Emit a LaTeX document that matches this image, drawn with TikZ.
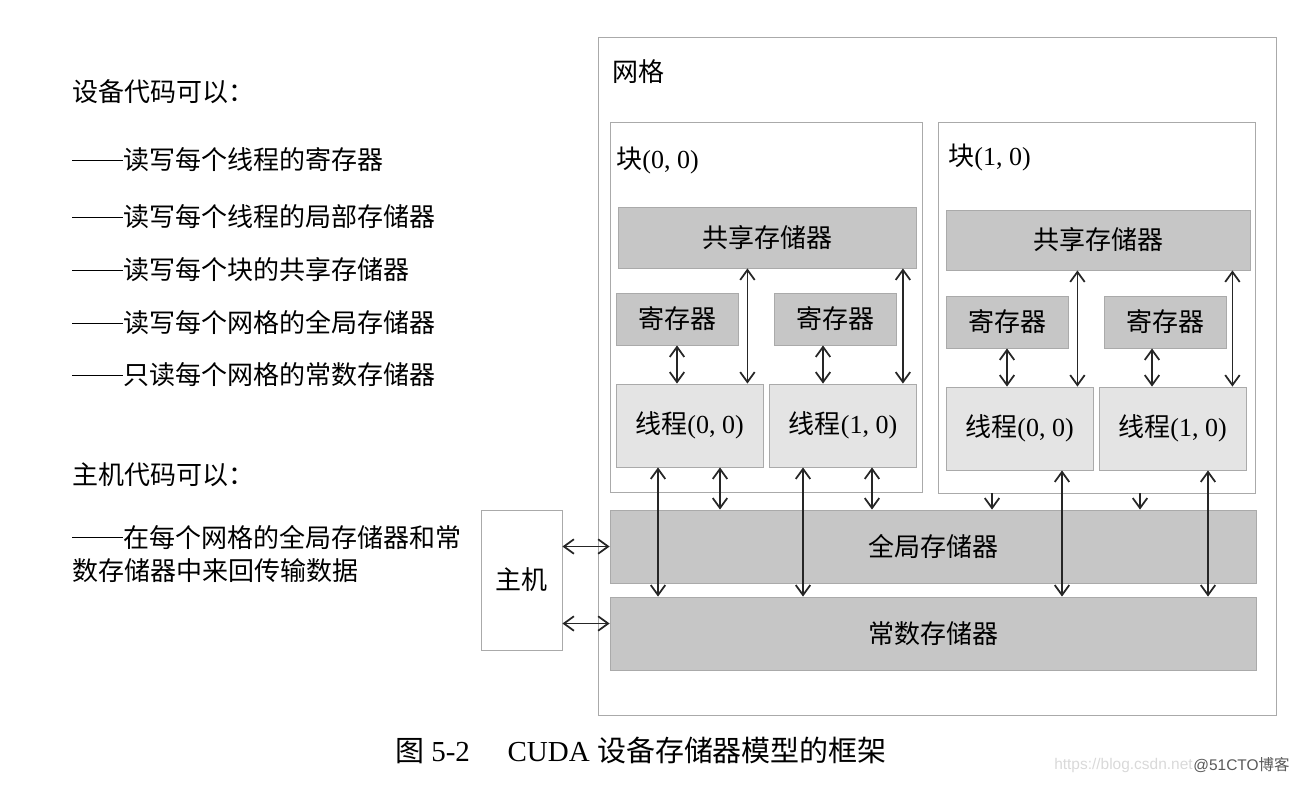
\documentclass[tikz,border=0pt]{standalone}
\usepackage{fontspec}
\setmainfont{Liberation Serif}
\newfontfamily\cjk{Noto Sans CJK SC}
\newfontfamily\wmfont{Liberation Sans}
\usetikzlibrary{arrows.meta, calc}
\definecolor{memgray}{RGB}{198,198,198}
\definecolor{thrgray}{RGB}{228,228,228}
\definecolor{framegray}{RGB}{170,170,170}
\newcommand{\dashlead}{\rule[0.33em]{1.95em}{0.06em}}

\begin{document}
\begin{tikzpicture}[
    x=0.02cm, y=-0.02cm,
    every node/.style={font=\fontsize{14.8}{18}\selectfont},
    frame/.style={rectangle, draw=framegray, line width=0.5pt, inner sep=0pt},
    membox/.style={frame, fill=memgray},
    regbox/.style={membox, minimum width=2.44cm, minimum height=1.04cm},
    thrbox/.style={frame, fill=thrgray, minimum width=2.94cm, minimum height=1.66cm},
    widebox/.style={membox, minimum width=12.92cm, minimum height=1.46cm},
    note/.style={anchor=west, inner sep=0pt},
    arr/.style={{Straight Barb[length=2mm,width=2.9mm]}-{Straight Barb[length=2mm,width=2.9mm]}, line width=1pt, black!85},
    downarr/.style={-{Straight Barb[length=2mm,width=2.9mm]}, line width=1pt, black!85}
]
\useasboundingbox (0,0) rectangle (1300,784);
\node[note] (dev) at (72,92) {\cjk 设备代码可以：};
\node[note] (dev1) at (72,160) {\dashlead{\cjk 读写每个线程的寄存器}};
\node[note] (dev2) at (72,217) {\dashlead{\cjk 读写每个线程的局部存储器}};
\node[note] (dev3) at (72,270) {\dashlead{\cjk 读写每个块的共享存储器}};
\node[note] (dev4) at (72,323) {\dashlead{\cjk 读写每个网格的全局存储器}};
\node[note] (dev5) at (72,375) {\dashlead{\cjk 只读每个网格的常数存储器}};
\node[note] (hst) at (72,475) {\cjk 主机代码可以：};
\node[note] (hst1) at (72,537) {\dashlead{\cjk 在每个网格的全局存储器和常}};
\node[note] (hst2) at (72,571) {\cjk 数存储器中来回传输数据};
\node[frame, minimum width=13.56cm, minimum height=13.56cm] (grid) at (937,376) {};
\node[note] (gridlbl) at (612,72) {\cjk 网格};
\node[frame, minimum width=6.24cm, minimum height=7.4cm] (blk0) at (766,307) {};
\node[frame, minimum width=6.34cm, minimum height=7.42cm] (blk1) at (1096.5,307.5) {};
\node[note] (blk0lbl) at (616,160) {{\cjk 块}(0, 0)};
\node[note] (blk1lbl) at (948,157) {{\cjk 块}(1, 0)};
\node[membox, minimum width=5.96cm, minimum height=1.22cm] (shm0) at (767,237.5) {\cjk 共享存储器};
\node[membox, minimum width=6.08cm, minimum height=1.2cm] (shm1) at (1098,240) {\cjk 共享存储器};
\node[regbox] (reg00) at (677,319) {\cjk 寄存器};
\node[regbox] (reg01) at (835,319) {\cjk 寄存器};
\node[regbox] (reg10) at (1007,322) {\cjk 寄存器};
\node[regbox] (reg11) at (1165,322) {\cjk 寄存器};
\node[thrbox] (thr00) at (689.5,425.5) {{\cjk 线程}(0, 0)};
\node[thrbox] (thr01) at (843,425.5) {{\cjk 线程}(1, 0)};
\node[thrbox] (thr10) at (1019.5,428.5) {{\cjk 线程}(0, 0)};
\node[thrbox] (thr11) at (1172.5,428.5) {{\cjk 线程}(1, 0)};
\node[widebox] (glob) at (933,546.5) {\cjk 全局存储器};
\node[widebox] (cmem) at (933,633.5) {\cjk 常数存储器};
\node[frame, minimum width=1.62cm, minimum height=2.8cm] (host) at (521.5,580) {\cjk 主机};
\node[font=\fontsize{16.5}{20}\selectfont] (cap) at (641,750)
    {{\cjk 图} 5-2\hspace{1.3em}CUDA {\cjk 设备存储器模型的框架}};
\node[anchor=east, inner sep=0pt, font=\wmfont\fontsize{8.8}{10}\selectfont, text=black!15] (wm1) at (1193,765) {https://blog.csdn.net};
\node[anchor=west, inner sep=0pt, font=\wmfont\fontsize{8.8}{10}\selectfont, text=black!65] (wm2) at (wm1.east) {@51CTO{\cjk 博客}};
\draw[arr] (reg00.south) -- (reg00.south |- thr00.north);
\draw[arr] ([xshift=-0.24cm]reg01.south) -- ([xshift=-0.24cm]reg01.south |- thr01.north);
\draw[arr] (reg10.south) -- (reg10.south |- thr10.north);
\draw[arr] ([xshift=-0.26cm]reg11.south) -- ([xshift=-0.26cm]reg11.south |- thr11.north);
\draw[arr] ([xshift=-0.32cm]thr00.north east |- shm0.south) -- ([xshift=-0.32cm]thr00.north east);
\draw[arr] ([xshift=-0.28cm]thr01.north east |- shm0.south) -- ([xshift=-0.28cm]thr01.north east);
\draw[arr] ([xshift=-0.32cm]thr10.north east |- shm1.south) -- ([xshift=-0.32cm]thr10.north east);
\draw[arr] ([xshift=-0.28cm]thr11.north east |- shm1.south) -- ([xshift=-0.28cm]thr11.north east);
\draw[arr] ([xshift=0.61cm]thr00.south) -- ([xshift=0.61cm]thr00.south |- glob.north);
\draw[arr] ([xshift=0.58cm]thr01.south) -- ([xshift=0.58cm]thr01.south |- glob.north);
\draw[downarr] ([xshift=-0.55cm]thr10.south |- blk1.south) -- ([xshift=-0.55cm]thr10.south |- glob.north);
\draw[downarr] ([xshift=-0.65cm]thr11.south |- blk1.south) -- ([xshift=-0.65cm]thr11.south |- glob.north);
\draw[arr] ([xshift=-0.63cm]thr00.south) -- ([xshift=-0.63cm]thr00.south |- cmem.north);
\draw[arr] ([xshift=-0.8cm]thr01.south) -- ([xshift=-0.8cm]thr01.south |- cmem.north);
\draw[arr] ([xshift=0.85cm]thr10.south) -- ([xshift=0.85cm]thr10.south |- cmem.north);
\draw[arr] ([xshift=0.71cm]thr11.south) -- ([xshift=0.71cm]thr11.south |- cmem.north);
\draw[arr] (host.east |- glob.west) -- (glob.west);
\draw[arr] ([yshift=0.2cm]cmem.west -| host.east) -- ([yshift=0.2cm]cmem.west);
\end{tikzpicture}
\end{document}
